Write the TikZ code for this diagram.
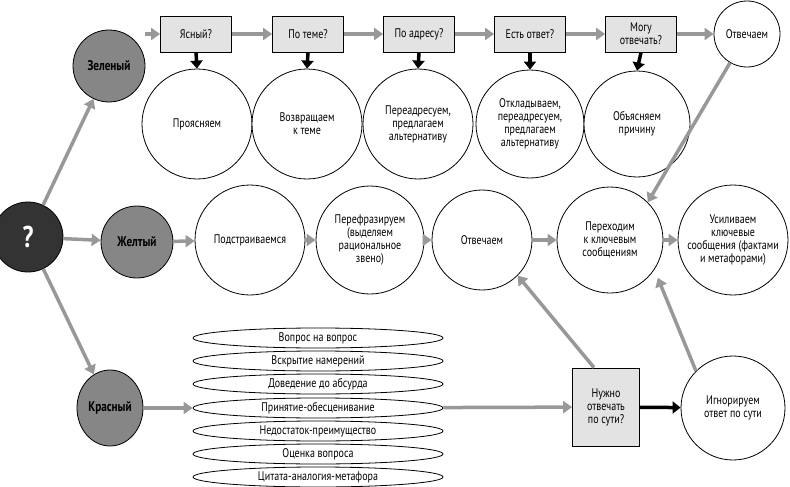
\documentclass[tikz,border=0pt]{standalone}
\usepackage{fontspec}
\setmainfont{PT Sans}[FakeStretch=0.8]
\usetikzlibrary{arrows.meta,shapes.geometric}
\begin{document}
\begin{tikzpicture}[x=1pt,y=-1pt,
  font=\fontsize{12.5}{13}\selectfont,
  cir/.style={circle,draw,thick,fill=white,inner sep=0pt,minimum size=#1,align=center},
  main/.style={circle,draw,thick,fill=gray!95,inner sep=0pt,minimum size=72pt,font=\fontsize{14}{15}\selectfont\bfseries},
  box/.style={draw,thick,fill=gray!22,minimum width=71pt,minimum height=36pt,align=center,inner sep=1pt},
  oval/.style={ellipse,draw,thick,fill=white,minimum width=250pt,minimum height=20pt,inner sep=0pt},
  ga/.style={draw=gray!85!black!70,line width=3.5pt,-{Triangle[length=9pt,width=12pt]}},
  ba/.style={draw=black,line width=3.5pt,-{Triangle[length=8pt,width=12pt]}}]
\useasboundingbox (0,0) rectangle (790,487);
% main nodes
\node[circle,draw,thick,fill=black!80,minimum size=70pt,inner sep=0pt,text=white,font=\fontsize{30}{32}\selectfont\bfseries] (q) at (28,237) {?};
\node[main] (g) at (109,66) {Зеленый};
\node[main] (y) at (137,242) {Желтый};
\node[ellipse,draw,thick,fill=gray!95,minimum width=66pt,minimum height=76pt,inner sep=0pt,font=\fontsize{14}{15}\selectfont\bfseries] (r) at (110,408) {Красный};
% boxes
\node[box] (b1) at (196,34) {Ясный?};
\node[box] (b2) at (308,34) {По теме?};
\node[box] (b3) at (419,34) {По адресу?};
\node[box] (b4) at (530,34) {Есть ответ?};
\node[box] (b5) at (641,34) {Могу\\отвечать?};
\node[cir=66pt] (ot1) at (747,34) {Отвечаем};
% answer circles
\node[cir=110pt] (c1) at (197,124) {Проясняем};
\node[cir=110pt] (c2) at (307,124) {Возвращаем\\к теме};
\node[cir=110pt] (c3) at (418,124) {Переадресуем,\\предлагаем\\альтернативу};
\node[cir=108pt] (c4) at (530,124) {Откладываем,\\переадресуем,\\предлагаем\\альтернативу};
\node[cir=106pt] (c5) at (637,124) {Объясняем\\причину};
% middle row
\node[cir=110pt] (m1) at (250,240) {Подстраиваемся};
\node[cir=108pt] (m2) at (370,240) {Перефразируем\\(выделяем\\рациональное\\звено)};
\node[cir=100pt] (m3) at (482,240) {Отвечаем};
\node[cir=106pt] (m4) at (610,240) {Переходим\\к ключевым\\сообщениям};
\node[cir=110pt] (m5) at (733,240) {Усиливаем\\ключевые\\сообщения (фактами\\и метафорами)};
% bottom
\node[oval] (e1) at (318,338) {Вопрос на вопрос};
\node[oval] (e2) at (318,361) {Вскрытие намерений};
\node[oval] (e3) at (318,384) {Доведение до абсурда};
\node[oval] (e4) at (318,408) {Принятие-обесценивание};
\node[oval] (e5) at (318,431) {Недостаток-преимущество};
\node[oval] (e6) at (318,454) {Оценка вопроса};
\node[oval] (e7) at (318,477) {Цитата-аналогия-метафора};
\node[box,minimum width=67pt,minimum height=78pt] (nb) at (606,407) {Нужно\\отвечать\\по сути?};
\node[cir=104pt] (ig) at (733,408) {Игнорируем\\ответ по сути};
% arrows
\draw[ga] (q) -- (g);
\draw[ga] (q) -- (y);
\draw[ga] (q) -- (r);
\draw[ga] (g.east|-b1) -- (b1);
\draw[ga] (b1) -- (b2);
\draw[ga] (b2) -- (b3);
\draw[ga] (b3) -- (b4);
\draw[ga] (b4) -- (b5);
\draw[ga] (b5) -- (ot1);
\foreach \i in {1,...,5}{\draw[ba] (b\i.south) -- (c\i.north);}
\draw[ga] (y) -- (m1);
\draw[ga] (m1) -- (m2);
\draw[ga] (m2) -- (m3);
\draw[ga] (m3) -- (m4);
\draw[ga] (m4) -- (m5);
\draw[ga] (ot1) -- (m4.north east);
\draw[ga] (r) -- (e4);
\draw[ga] (e4) -- (nb);
\draw[ba] (nb) -- (ig);
\draw[ga] ([xshift=-12pt]nb.north) -- (m3.south east);
\draw[ga] (ig.north west) -- ([xshift=10pt]m4.south east);
\end{tikzpicture}
\end{document}
